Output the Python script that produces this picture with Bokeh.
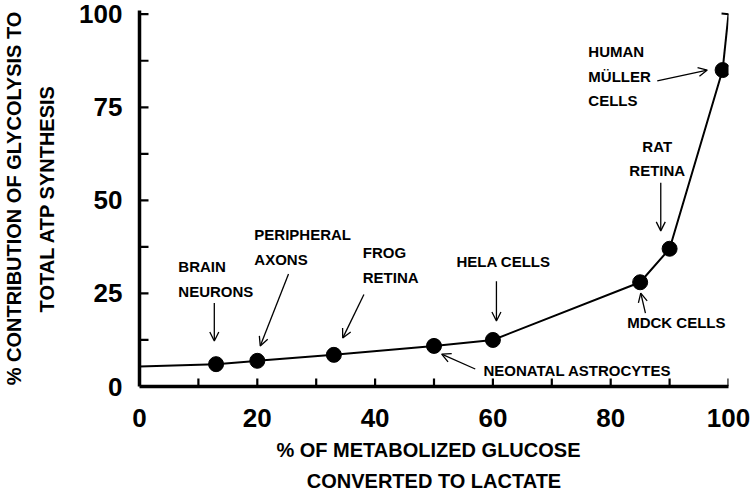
from bokeh.plotting import figure
from bokeh.models import (ColumnDataSource, Range1d, FixedTicker, Arrow, OpenHead,
                          TeeHead, LabelSet)
from bokeh.core.properties import value
from bokeh.embed import file_html
from bokeh.resources import INLINE

# ---- data -------------------------------------------------------------
cells = ["Brain neurons", "Peripheral axons", "Frog retina", "Neonatal astrocytes",
         "HeLa cells", "MDCK cells", "Rat retina", "Human Müller cells"]
lactate_pct = [13, 20, 33, 50, 60, 85, 90, 99]          # % glucose converted to lactate
glycolysis_atp_pct = [6.0, 6.9, 8.5, 10.9, 12.5, 28.0, 37.0, 85.0]  # % ATP from glycolysis

fit_start_lactate = [0]           # curve starts at the y axis
fit_start_glycolysis = [5.4]

error_top_lactate = [100]         # upper error bar end of the human Müller cell value
error_top_glycolysis = [100]

x_ticks = [0, 20, 40, 60, 80, 100]
x_minor_ticks = [10, 30, 50, 70, 90]
y_ticks = [0, 25, 50, 75, 100]
y_minor_ticks = [12.5, 37.5, 62.5, 87.5]

x_title = "%  OF  METABOLIZED GLUCOSE\nCONVERTED TO LACTATE"
y_title = "% CONTRIBUTION OF GLYCOLYSIS TO\nTOTAL ATP SYNTHESIS"

# annotation texts (left-aligned) with their anchor in data units
label_text = ["BRAIN", "NEURONS", "PERIPHERAL", "AXONS", "FROG", "RETINA",
              "HELA  CELLS", "NEONATAL  ASTROCYTES", "MDCK CELLS",
              "HUMAN", "MÜLLER", "CELLS"]
label_x = [6.6, 6.6, 19.5, 19.5, 37.9, 37.9, 53.8, 58.4, 82.8, 76.2, 76.2, 76.2]
label_y = [32.1, 25.4, 40.7, 34.0, 35.9, 29.2, 33.7, 4.4, 17.1, 90.1, 83.4, 76.7]

# centred annotation texts
clabel_text = ["RAT", "RETINA"]
clabel_x = [87.9, 87.9]
clabel_y = [64.6, 57.9]

# pointer arrows (start -> head)
arrow_x0 = [12.7, 25.3, 38.1, 60.6, 57.0, 85.9, 88.5, 87.9]
arrow_y0 = [22.4, 30.2, 24.7, 28.3, 4.7, 19.7, 54.7, 82.1]
arrow_x1 = [12.7, 20.5, 34.5, 60.6, 51.3, 85.1, 88.5, 96.4]
arrow_y1 = [12.2, 10.9, 13.0, 17.6, 8.7, 25.1, 41.8, 85.0]

# ---- figure -----------------------------------------------------------
FONT = "Liberation Sans"

p = figure(width=750, height=497, output_backend="svg", toolbar_location=None,
           x_range=Range1d(0, 100), y_range=Range1d(0, 101),
           min_border_left=139, min_border_right=22, min_border_top=10,
           min_border_bottom=111)
p.outline_line_color = None
p.grid.visible = False
p.background_fill_color = "white"
p.border_fill_color = "white"

# tick marks pointing inward, drawn from the tick lists
TX = 8 / 3.72   # 8 px in y data units
TY = 9 / 5.89   # 9 px in x data units
xt = [t for t in x_ticks + x_minor_ticks if t != 0]
p.segment(x0=xt, y0=[0] * len(xt), x1=xt, y1=[TX] * len(xt),
          line_width=2.2, line_color="black")
yt = [t for t in y_ticks + y_minor_ticks if t != 0]
p.segment(x0=[0] * len(yt), y0=yt, x1=[TY] * len(yt), y1=yt,
          line_width=2.2, line_color="black")

curve_x = fit_start_lactate + lactate_pct
curve_y = fit_start_glycolysis + glycolysis_atp_pct
p.line(curve_x, curve_y, line_color="black", line_width=2)

# error bar of the last point
src_e = ColumnDataSource(dict(x0=lactate_pct[-1:], y0=glycolysis_atp_pct[-1:],
                              x1=error_top_lactate, y1=error_top_glycolysis))
p.add_layout(Arrow(end=TeeHead(size=14, line_width=2, line_color="black"),
                   x_start="x0", y_start="y0", x_end="x1", y_end="y1",
                   source=src_e, line_width=2, line_color="black"))

p.scatter(lactate_pct, glycolysis_atp_pct, size=15, marker="circle",
          fill_color="black", line_color="black")

src_l = ColumnDataSource(dict(x=label_x, y=label_y, text=label_text))
p.add_layout(LabelSet(x="x", y="y", text="text", source=src_l, text_align="left",
                      text_baseline="middle", text_font=value(FONT),
                      text_font_style="bold", text_font_size="15px",
                      text_color="black"))
src_c = ColumnDataSource(dict(x=clabel_x, y=clabel_y, text=clabel_text))
p.add_layout(LabelSet(x="x", y="y", text="text", source=src_c, text_align="center",
                      text_baseline="middle", text_font=value(FONT),
                      text_font_style="bold", text_font_size="15px",
                      text_color="black"))

src_a = ColumnDataSource(dict(x0=arrow_x0, y0=arrow_y0, x1=arrow_x1, y1=arrow_y1))
p.add_layout(Arrow(end=OpenHead(size=9, line_width=1.3, line_color="black"),
                   x_start="x0", y_start="y0", x_end="x1", y_end="y1",
                   source=src_a, line_width=1.3, line_color="black"))

# axes
p.xaxis.ticker = FixedTicker(ticks=x_ticks, minor_ticks=x_minor_ticks)
p.yaxis.ticker = FixedTicker(ticks=y_ticks, minor_ticks=y_minor_ticks)
for ax in (p.xaxis, p.yaxis):
    ax.axis_line_width = 3.5
    ax.axis_line_color = "black"
    ax.major_tick_out = 0
    ax.minor_tick_out = 0
    ax.major_tick_in = 0
    ax.minor_tick_in = 0
    ax.major_label_text_font = FONT
    ax.major_label_text_font_style = "bold"
    ax.major_label_text_font_size = "26px"
    ax.major_label_text_color = "black"
    ax.axis_label_text_font = FONT
    ax.axis_label_text_font_style = "bold"
    ax.axis_label_text_font_size = "20px"
    ax.axis_label_text_color = "black"

p.xaxis.major_label_standoff = 22
p.yaxis.major_label_standoff = 17

p.xaxis.axis_label = x_title
p.xaxis.axis_label_text_line_height = 1.45
p.xaxis.axis_label_standoff = 9

p.yaxis.axis_label = y_title
p.yaxis.axis_label_text_line_height = 1.5
p.yaxis.axis_label_standoff = 18

open("out.html", "w").write(file_html(p, INLINE))
